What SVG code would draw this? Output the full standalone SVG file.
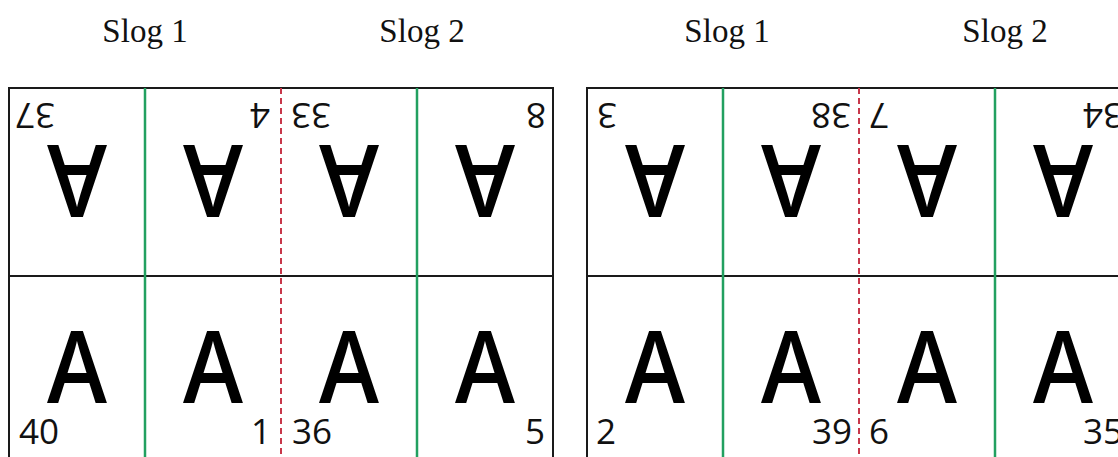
<svg xmlns="http://www.w3.org/2000/svg" width="1118" height="457" viewBox="0 0 1118 457">
<style>
.title{font-family:"Liberation Serif","Times New Roman",serif;font-size:33px;fill:#111;text-anchor:middle}
.big{font-family:"Open Sans","Noto Sans",sans-serif;font-size:100px;font-weight:600;fill:#000;text-anchor:middle}
.num{font-family:"Open Sans","Noto Sans",sans-serif;font-size:35px;fill:#111}
.s{text-anchor:start}
.e{text-anchor:end}
.frame{fill:#fff;stroke:#1a1a1a;stroke-width:2}
.mid{stroke:#1a1a1a;stroke-width:2}
.fold{stroke:#22a060;stroke-width:2.5}
.cut{stroke:#c8374a;stroke-width:2;stroke-dasharray:6 4}
</style>
<rect width="1118" height="457" fill="#fff"/>
<g id="titles">
<text class="title" x="145" y="42">Slog 1</text>
<text class="title" x="422" y="42">Slog 2</text>
<text class="title" x="727" y="42">Slog 1</text>
<text class="title" x="1005" y="42">Slog 2</text>
</g>
<g id="sheet-left">
<rect class="frame" x="9" y="88" width="544" height="400"/>
</g>
<g id="sheet-right">
<rect class="frame" x="587" y="88" width="544" height="400"/>
</g>
<g id="connectors">
<line class="mid" x1="9" y1="276" x2="553" y2="276"/>
<line class="mid" x1="587" y1="276" x2="1131" y2="276"/>
<line class="fold" x1="145" y1="88" x2="145" y2="470"/>
<line class="fold" x1="417" y1="88" x2="417" y2="470"/>
<line class="fold" x1="723" y1="88" x2="723" y2="470"/>
<line class="fold" x1="995" y1="88" x2="995" y2="470"/>
<line class="cut" x1="281" y1="88" x2="281" y2="470"/>
<line class="cut" x1="859" y1="88" x2="859" y2="470"/>
</g>
<g id="page-37"><text class="big" x="77" y="145" textLength="60" lengthAdjust="spacingAndGlyphs" transform="rotate(180 77 145)">A</text><text class="num e" x="15" y="103" transform="rotate(180 15 103)">37</text></g>
<g id="page-4"><text class="big" x="213" y="145" textLength="60" lengthAdjust="spacingAndGlyphs" transform="rotate(180 213 145)">A</text><text class="num s" x="270" y="103" transform="rotate(180 270 103)">4</text></g>
<g id="page-33"><text class="big" x="349" y="145" textLength="60" lengthAdjust="spacingAndGlyphs" transform="rotate(180 349 145)">A</text><text class="num e" x="291" y="103" transform="rotate(180 291 103)">33</text></g>
<g id="page-8"><text class="big" x="485" y="145" textLength="60" lengthAdjust="spacingAndGlyphs" transform="rotate(180 485 145)">A</text><text class="num s" x="546" y="103" transform="rotate(180 546 103)">8</text></g>
<g id="page-40"><text class="big" x="77" y="403" textLength="60" lengthAdjust="spacingAndGlyphs">A</text><text class="num s" x="19" y="444">40</text></g>
<g id="page-1"><text class="big" x="213" y="403" textLength="60" lengthAdjust="spacingAndGlyphs">A</text><text class="num e" x="271" y="444">1</text></g>
<g id="page-36"><text class="big" x="349" y="403" textLength="60" lengthAdjust="spacingAndGlyphs">A</text><text class="num s" x="292" y="444">36</text></g>
<g id="page-5"><text class="big" x="485" y="403" textLength="60" lengthAdjust="spacingAndGlyphs">A</text><text class="num e" x="545" y="444">5</text></g>
<g id="page-3"><text class="big" x="655" y="145" textLength="60" lengthAdjust="spacingAndGlyphs" transform="rotate(180 655 145)">A</text><text class="num e" x="597" y="103" transform="rotate(180 597 103)">3</text></g>
<g id="page-38"><text class="big" x="791" y="145" textLength="60" lengthAdjust="spacingAndGlyphs" transform="rotate(180 791 145)">A</text><text class="num s" x="851" y="103" transform="rotate(180 851 103)">38</text></g>
<g id="page-7"><text class="big" x="927" y="145" textLength="60" lengthAdjust="spacingAndGlyphs" transform="rotate(180 927 145)">A</text><text class="num e" x="869" y="103" transform="rotate(180 869 103)">7</text></g>
<g id="page-34"><text class="big" x="1063" y="145" textLength="60" lengthAdjust="spacingAndGlyphs" transform="rotate(180 1063 145)">A</text><text class="num s" x="1123" y="103" transform="rotate(180 1123 103)">34</text></g>
<g id="page-2"><text class="big" x="655" y="403" textLength="60" lengthAdjust="spacingAndGlyphs">A</text><text class="num s" x="596" y="444">2</text></g>
<g id="page-39"><text class="big" x="791" y="403" textLength="60" lengthAdjust="spacingAndGlyphs">A</text><text class="num e" x="852" y="444">39</text></g>
<g id="page-6"><text class="big" x="927" y="403" textLength="60" lengthAdjust="spacingAndGlyphs">A</text><text class="num s" x="869" y="444">6</text></g>
<g id="page-35"><text class="big" x="1063" y="403" textLength="60" lengthAdjust="spacingAndGlyphs">A</text><text class="num e" x="1123" y="444">35</text></g>
</svg>
